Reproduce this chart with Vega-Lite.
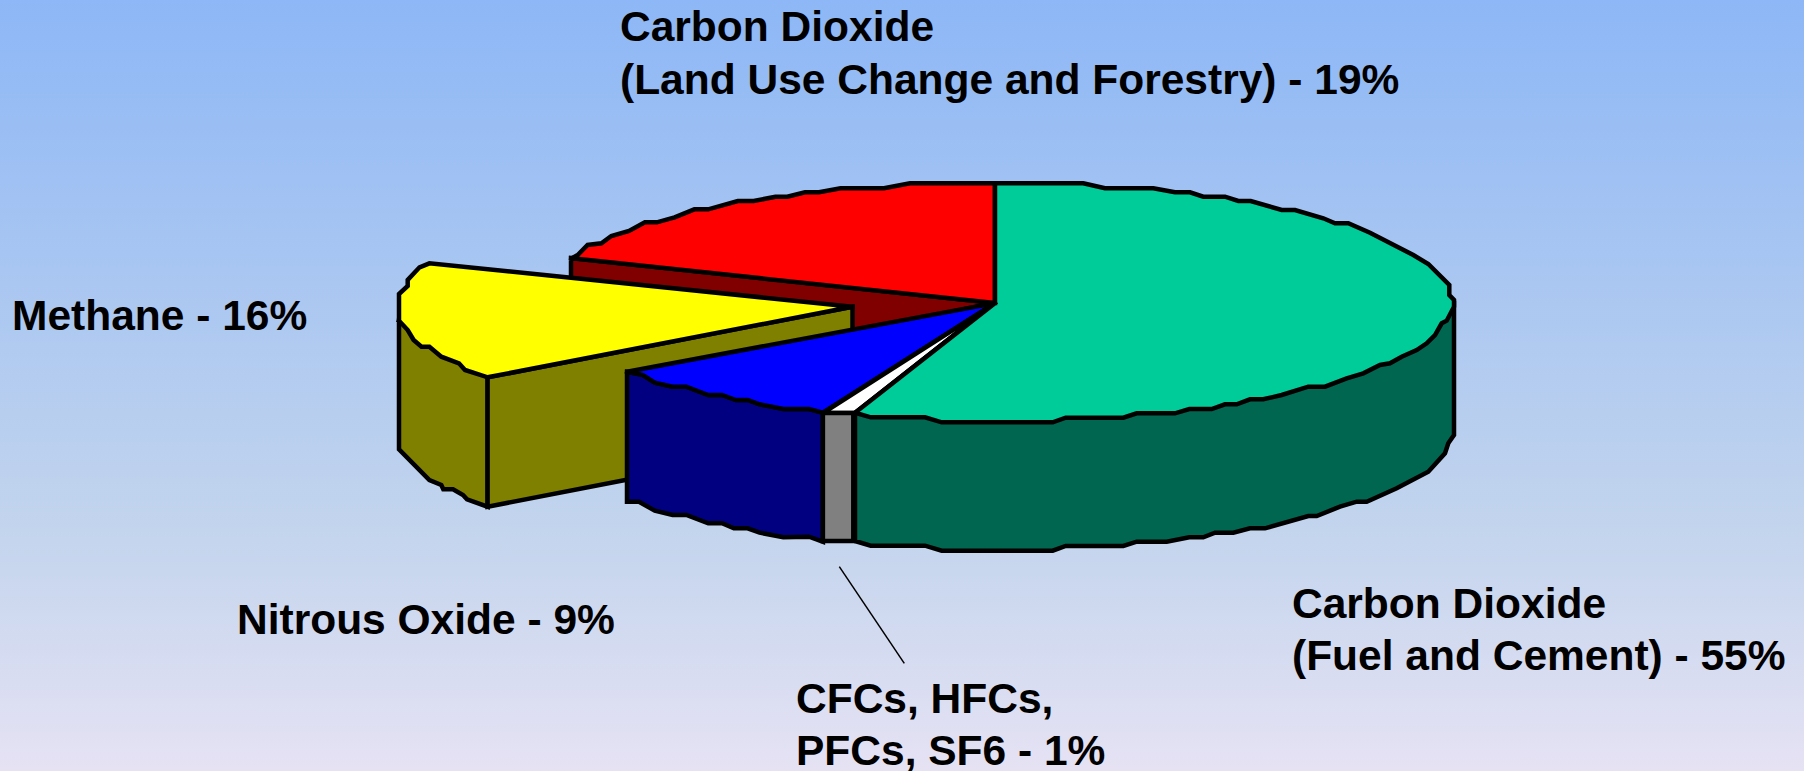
{
"$schema":"https://vega.github.io/schema/vega-lite/v6.json",
"width":1804,"height":771,"padding":0,
"autosize":"none",
"background":"#E6E2F4",
"view":{"stroke":null},
"layer":[
{"data":{"values":[{"x0":0,"x1":1804,"y0":0,"y1":771}]},
"mark":{"type":"rect","color":{"gradient":"linear","x1":0,"y1":0,"x2":0,"y2":1,"stops":[{"offset":0,"color":"#8DB7F6"},{"offset":0.7,"color":"#C4D5ED"},{"offset":1,"color":"#E6E2F4"}]}},
"encoding":{
"x":{"field":"x0","type":"quantitative","axis":null,"scale":{"domain":[0,1804],"nice":false,"zero":false}},"x2":{"field":"x1"},
"y":{"field":"y0","type":"quantitative","axis":null,"scale":{"domain":[771,0],"nice":false,"zero":false}},"y2":{"field":"y1"}}},
{"data":{"values":[
{"part":"a_redwall","n":1,"x":571,"y":258},{"part":"a_redwall","n":2,"x":995,"y":303},{"part":"a_redwall","n":3,"x":853,"y":332},{"part":"a_redwall","n":4,"x":571,"y":300},{"part":"a_redwall","n":5,"x":571,"y":258},
{"part":"b_redtop","n":1,"x":995,"y":303},{"part":"b_redtop","n":2,"x":995,"y":183.3},{"part":"b_redtop","n":3,"x":910,"y":183.3},{"part":"b_redtop","n":4,"x":884,"y":188.3},{"part":"b_redtop","n":5,"x":840.6,"y":188.3},{"part":"b_redtop","n":6,"x":819,"y":192.3},{"part":"b_redtop","n":7,"x":805,"y":192.3},{"part":"b_redtop","n":8,"x":787.3,"y":196.7},{"part":"b_redtop","n":9,"x":775.4,"y":196.7},{"part":"b_redtop","n":10,"x":753.7,"y":201},{"part":"b_redtop","n":11,"x":737.8,"y":201},{"part":"b_redtop","n":12,"x":708.2,"y":209.3},{"part":"b_redtop","n":13,"x":694.4,"y":209.3},{"part":"b_redtop","n":14,"x":674.6,"y":217.3},{"part":"b_redtop","n":15,"x":656.8,"y":222.3},{"part":"b_redtop","n":16,"x":644.9,"y":222.3},{"part":"b_redtop","n":17,"x":629,"y":231},{"part":"b_redtop","n":18,"x":611.3,"y":236},{"part":"b_redtop","n":19,"x":601.4,"y":243.3},{"part":"b_redtop","n":20,"x":587.6,"y":245},{"part":"b_redtop","n":21,"x":577.7,"y":255},{"part":"b_redtop","n":22,"x":571.8,"y":258.3},{"part":"b_redtop","n":23,"x":995,"y":303},
{"part":"c_olive_outer","n":1,"x":399,"y":320.7},{"part":"c_olive_outer","n":2,"x":399,"y":449.3},{"part":"c_olive_outer","n":3,"x":429.4,"y":480},{"part":"c_olive_outer","n":4,"x":441.3,"y":485},{"part":"c_olive_outer","n":5,"x":443.3,"y":489.3},{"part":"c_olive_outer","n":6,"x":453,"y":489.3},{"part":"c_olive_outer","n":7,"x":463,"y":495},{"part":"c_olive_outer","n":8,"x":467,"y":499.3},{"part":"c_olive_outer","n":9,"x":487.6,"y":506.7},{"part":"c_olive_outer","n":10,"x":487.6,"y":377.3},{"part":"c_olive_outer","n":11,"x":399,"y":320.7},
{"part":"d_olive_inner","n":1,"x":487.6,"y":377.3},{"part":"d_olive_inner","n":2,"x":852.5,"y":306.7},{"part":"d_olive_inner","n":3,"x":852.5,"y":436},{"part":"d_olive_inner","n":4,"x":487.6,"y":506.7},{"part":"d_olive_inner","n":5,"x":487.6,"y":377.3},
{"part":"e_yellowtop","n":1,"x":852.5,"y":306.7},{"part":"e_yellowtop","n":2,"x":429.4,"y":263.3},{"part":"e_yellowtop","n":3,"x":419.5,"y":267.3},{"part":"e_yellowtop","n":4,"x":407.7,"y":280},{"part":"e_yellowtop","n":5,"x":407.7,"y":286},{"part":"e_yellowtop","n":6,"x":399,"y":294},{"part":"e_yellowtop","n":7,"x":399,"y":320.7},{"part":"e_yellowtop","n":8,"x":407.7,"y":330},{"part":"e_yellowtop","n":9,"x":413.6,"y":340},{"part":"e_yellowtop","n":10,"x":421.5,"y":346.7},{"part":"e_yellowtop","n":11,"x":429.4,"y":346.7},{"part":"e_yellowtop","n":12,"x":441.3,"y":356.7},{"part":"e_yellowtop","n":13,"x":459,"y":363.3},{"part":"e_yellowtop","n":14,"x":465,"y":370},{"part":"e_yellowtop","n":15,"x":487.6,"y":377.3},{"part":"e_yellowtop","n":16,"x":852.5,"y":306.7},
{"part":"f_bluewall","n":1,"x":627,"y":371.7},{"part":"f_bluewall","n":2,"x":643,"y":375},{"part":"f_bluewall","n":3,"x":654.8,"y":382.7},{"part":"f_bluewall","n":4,"x":672.6,"y":386.7},{"part":"f_bluewall","n":5,"x":686.4,"y":386.7},{"part":"f_bluewall","n":6,"x":708.2,"y":395},{"part":"f_bluewall","n":7,"x":722,"y":395},{"part":"f_bluewall","n":8,"x":735.9,"y":400},{"part":"f_bluewall","n":9,"x":747.7,"y":400},{"part":"f_bluewall","n":10,"x":759.6,"y":404.3},{"part":"f_bluewall","n":11,"x":783.3,"y":409},{"part":"f_bluewall","n":12,"x":809,"y":409},{"part":"f_bluewall","n":13,"x":822.9,"y":412.7},{"part":"f_bluewall","n":14,"x":822.9,"y":541.7},{"part":"f_bluewall","n":15,"x":809,"y":536.7},{"part":"f_bluewall","n":16,"x":783.3,"y":537.3},{"part":"f_bluewall","n":17,"x":759.6,"y":532.7},{"part":"f_bluewall","n":18,"x":747.7,"y":528.3},{"part":"f_bluewall","n":19,"x":733.9,"y":528.3},{"part":"f_bluewall","n":20,"x":722,"y":523.3},{"part":"f_bluewall","n":21,"x":708.2,"y":523.3},{"part":"f_bluewall","n":22,"x":686.4,"y":515},{"part":"f_bluewall","n":23,"x":672.6,"y":515},{"part":"f_bluewall","n":24,"x":654.8,"y":510.7},{"part":"f_bluewall","n":25,"x":639,"y":501.7},{"part":"f_bluewall","n":26,"x":627,"y":501.7},{"part":"f_bluewall","n":27,"x":627,"y":371.7},
{"part":"g_bluetop","n":1,"x":995,"y":303},{"part":"g_bluetop","n":2,"x":627,"y":371.7},{"part":"g_bluetop","n":3,"x":643,"y":375},{"part":"g_bluetop","n":4,"x":654.8,"y":382.7},{"part":"g_bluetop","n":5,"x":672.6,"y":386.7},{"part":"g_bluetop","n":6,"x":686.4,"y":386.7},{"part":"g_bluetop","n":7,"x":708.2,"y":395},{"part":"g_bluetop","n":8,"x":722,"y":395},{"part":"g_bluetop","n":9,"x":735.9,"y":400},{"part":"g_bluetop","n":10,"x":747.7,"y":400},{"part":"g_bluetop","n":11,"x":759.6,"y":404.3},{"part":"g_bluetop","n":12,"x":783.3,"y":409},{"part":"g_bluetop","n":13,"x":809,"y":409},{"part":"g_bluetop","n":14,"x":822.9,"y":412.7},{"part":"g_bluetop","n":15,"x":995,"y":303},
{"part":"h_whitetop","n":1,"x":995,"y":303},{"part":"h_whitetop","n":2,"x":822.9,"y":413},{"part":"h_whitetop","n":3,"x":855,"y":413},{"part":"h_whitetop","n":4,"x":995,"y":303},
{"part":"i_graywall","n":1,"x":822.9,"y":413},{"part":"i_graywall","n":2,"x":853.3,"y":413},{"part":"i_graywall","n":3,"x":853.3,"y":541},{"part":"i_graywall","n":4,"x":822.9,"y":541},{"part":"i_graywall","n":5,"x":822.9,"y":413},
{"part":"j_greenwall","n":1,"x":1454,"y":303},{"part":"j_greenwall","n":2,"x":1454,"y":435},{"part":"j_greenwall","n":3,"x":1448.3,"y":443.3},{"part":"j_greenwall","n":4,"x":1445,"y":453.3},{"part":"j_greenwall","n":5,"x":1428.3,"y":471.7},{"part":"j_greenwall","n":6,"x":1396.7,"y":488.3},{"part":"j_greenwall","n":7,"x":1366.7,"y":501.7},{"part":"j_greenwall","n":8,"x":1356.7,"y":501.7},{"part":"j_greenwall","n":9,"x":1340,"y":506.7},{"part":"j_greenwall","n":10,"x":1316.7,"y":516},{"part":"j_greenwall","n":11,"x":1308.3,"y":516},{"part":"j_greenwall","n":12,"x":1265,"y":528.3},{"part":"j_greenwall","n":13,"x":1250,"y":528.3},{"part":"j_greenwall","n":14,"x":1233.3,"y":532.7},{"part":"j_greenwall","n":15,"x":1215,"y":532.7},{"part":"j_greenwall","n":16,"x":1203.3,"y":537.3},{"part":"j_greenwall","n":17,"x":1189.3,"y":537.3},{"part":"j_greenwall","n":18,"x":1166.7,"y":541.7},{"part":"j_greenwall","n":19,"x":1136.7,"y":541.7},{"part":"j_greenwall","n":20,"x":1123.3,"y":546},{"part":"j_greenwall","n":21,"x":1065.7,"y":546},{"part":"j_greenwall","n":22,"x":1052.7,"y":550.7},{"part":"j_greenwall","n":23,"x":941.7,"y":550.7},{"part":"j_greenwall","n":24,"x":925,"y":545.7},{"part":"j_greenwall","n":25,"x":870.7,"y":545.7},{"part":"j_greenwall","n":26,"x":855,"y":541},{"part":"j_greenwall","n":27,"x":855,"y":413},{"part":"j_greenwall","n":28,"x":995,"y":303},{"part":"j_greenwall","n":29,"x":1454,"y":303},
{"part":"k_greentop","n":1,"x":995,"y":303},{"part":"k_greentop","n":2,"x":995,"y":183.3},{"part":"k_greentop","n":3,"x":1083.3,"y":183.3},{"part":"k_greentop","n":4,"x":1105,"y":188.3},{"part":"k_greentop","n":5,"x":1153.3,"y":188.3},{"part":"k_greentop","n":6,"x":1175,"y":192.3},{"part":"k_greentop","n":7,"x":1190,"y":192.3},{"part":"k_greentop","n":8,"x":1203.3,"y":196.7},{"part":"k_greentop","n":9,"x":1225,"y":196.7},{"part":"k_greentop","n":10,"x":1238.3,"y":201},{"part":"k_greentop","n":11,"x":1250.7,"y":201},{"part":"k_greentop","n":12,"x":1281.7,"y":210},{"part":"k_greentop","n":13,"x":1295,"y":210},{"part":"k_greentop","n":14,"x":1323.3,"y":218.3},{"part":"k_greentop","n":15,"x":1335,"y":223.3},{"part":"k_greentop","n":16,"x":1348.3,"y":223.3},{"part":"k_greentop","n":17,"x":1370,"y":232.7},{"part":"k_greentop","n":18,"x":1413.3,"y":255},{"part":"k_greentop","n":19,"x":1428.3,"y":264},{"part":"k_greentop","n":20,"x":1449.3,"y":285},{"part":"k_greentop","n":21,"x":1449.3,"y":295},{"part":"k_greentop","n":22,"x":1454,"y":300},{"part":"k_greentop","n":23,"x":1454,"y":306.7},{"part":"k_greentop","n":24,"x":1446.7,"y":320.7},{"part":"k_greentop","n":25,"x":1441.7,"y":323.3},{"part":"k_greentop","n":26,"x":1435,"y":335},{"part":"k_greentop","n":27,"x":1426.7,"y":343.3},{"part":"k_greentop","n":28,"x":1416.7,"y":350},{"part":"k_greentop","n":29,"x":1401.7,"y":356.7},{"part":"k_greentop","n":30,"x":1390,"y":363.3},{"part":"k_greentop","n":31,"x":1380,"y":365},{"part":"k_greentop","n":32,"x":1363.3,"y":373.3},{"part":"k_greentop","n":33,"x":1346.7,"y":378.3},{"part":"k_greentop","n":34,"x":1325,"y":386.7},{"part":"k_greentop","n":35,"x":1308.3,"y":386.7},{"part":"k_greentop","n":36,"x":1281.7,"y":395},{"part":"k_greentop","n":37,"x":1263.3,"y":399.3},{"part":"k_greentop","n":38,"x":1250,"y":399.3},{"part":"k_greentop","n":39,"x":1236.7,"y":404.3},{"part":"k_greentop","n":40,"x":1225,"y":404.3},{"part":"k_greentop","n":41,"x":1211.7,"y":409},{"part":"k_greentop","n":42,"x":1189.3,"y":409},{"part":"k_greentop","n":43,"x":1175,"y":413.3},{"part":"k_greentop","n":44,"x":1136.7,"y":413.3},{"part":"k_greentop","n":45,"x":1123.3,"y":417.7},{"part":"k_greentop","n":46,"x":1065.7,"y":417.7},{"part":"k_greentop","n":47,"x":1052.7,"y":422.3},{"part":"k_greentop","n":48,"x":941.7,"y":422.3},{"part":"k_greentop","n":49,"x":925,"y":417.3},{"part":"k_greentop","n":50,"x":870.7,"y":417.3},{"part":"k_greentop","n":51,"x":855,"y":412.7},{"part":"k_greentop","n":52,"x":995,"y":303}
]},
"mark":{"type":"line","stroke":"black","strokeWidth":4.5,"strokeJoin":"miter","strokeMiterLimit":2.5,"strokeCap":"square"},
"encoding":{
"x":{"field":"x","type":"quantitative"},
"y":{"field":"y","type":"quantitative"},
"order":{"field":"n","type":"quantitative"},
"fill":{"field":"part","type":"nominal","legend":null,"scale":{
"domain":["a_redwall","b_redtop","c_olive_outer","d_olive_inner","e_yellowtop","f_bluewall","g_bluetop","h_whitetop","i_graywall","j_greenwall","k_greentop"],
"range":["#800000","#FF0000","#808000","#808000","#FFFF00","#000080","#0000FF","#FFFFFF","#808080","#006650","#00CC99"]}}
}},
{"data":{"values":[{"x":839.3,"y":566.7,"n":1},{"x":904.3,"y":663.3,"n":2}]},
"mark":{"type":"line","stroke":"black","strokeWidth":1.5},
"encoding":{"x":{"field":"x","type":"quantitative"},"y":{"field":"y","type":"quantitative"},"order":{"field":"n","type":"quantitative"}}},
{"data":{"values":[
{"label":"Carbon Dioxide","x":620,"y":41},
{"label":"(Land Use Change and Forestry) - 19%","x":620,"y":94},
{"label":"Methane - 16%","x":12,"y":330},
{"label":"Nitrous Oxide - 9%","x":237,"y":634},
{"label":"Carbon Dioxide","x":1292,"y":618},
{"label":"(Fuel and Cement) - 55%","x":1292,"y":670},
{"label":"CFCs, HFCs,","x":796,"y":713},
{"label":"PFCs, SF6 - 1%","x":796,"y":765}
]},
"mark":{"type":"text","font":"Liberation Sans","fontWeight":"bold","fontSize":42.5,"align":"left","baseline":"alphabetic","color":"black"},
"encoding":{"x":{"field":"x","type":"quantitative"},"y":{"field":"y","type":"quantitative"},"text":{"field":"label"}}}
]}
